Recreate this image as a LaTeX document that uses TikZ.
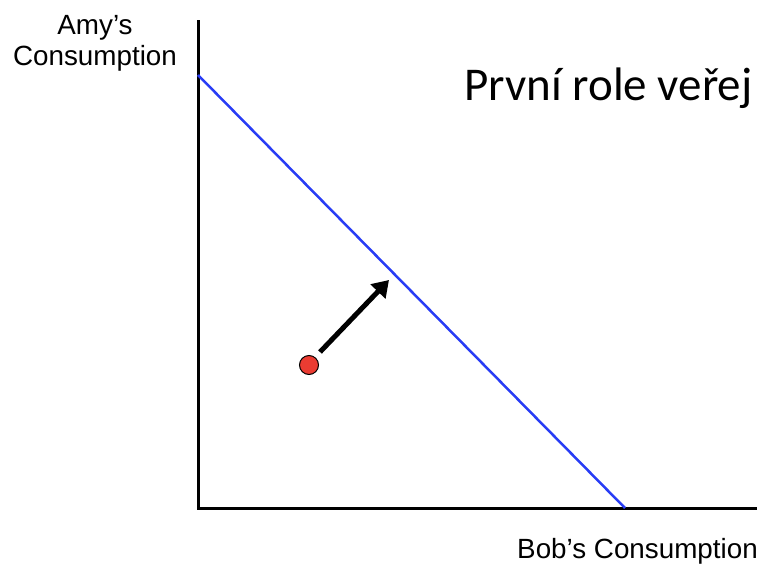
\documentclass[tikz,border=0pt]{standalone}
\usepackage{fontspec}
\setmainfont{Liberation Sans}
\newfontfamily\titlefont{Carlito}
\usetikzlibrary{arrows.meta}
\begin{document}
\begin{tikzpicture}[x=1pt,y=-1pt,
  axis/.style={line width=3pt,line cap=butt,line join=miter},
  budget/.style={line width=2.5pt,draw={rgb,255:red,40;green,60;blue,245}},
  move/.style={line width=5pt,-{Triangle[length=16pt,width=20pt]}},
  lbl/.style={font=\fontsize{27.8}{31}\selectfont,inner sep=0pt}]
\useasboundingbox (0,0) rectangle (761,565);
\coordinate (top) at (198,20);
\coordinate (origin) at (198,508);
\coordinate (xend) at (757,508);
\coordinate (bA) at (198,75);
\coordinate (bB) at (625,508);
\draw[axis] (top) -- (origin) -- (xend);
\draw[budget] (bA) -- (bB);
\node[circle,draw=black,line width=1pt,fill={rgb,255:red,235;green,60;blue,50},minimum size=19pt,inner sep=0pt] (dot) at (309,365) {};
\coordinate (tip) at (389,280);
\coordinate (tail) at (320,352);
\draw[move] (tail) -- (tip);
\node[lbl,align=center,anchor=base] (amy) at (95,65) {Amy’s\\Consumption};
\node[lbl,anchor=base east] (bob) at (758,558) {Bob’s Consumption};
\node[font=\titlefont\fontsize{47}{52}\selectfont,inner sep=0pt,anchor=base west] (title) at (464,100) {První role veřej};
\end{tikzpicture}
\end{document}
